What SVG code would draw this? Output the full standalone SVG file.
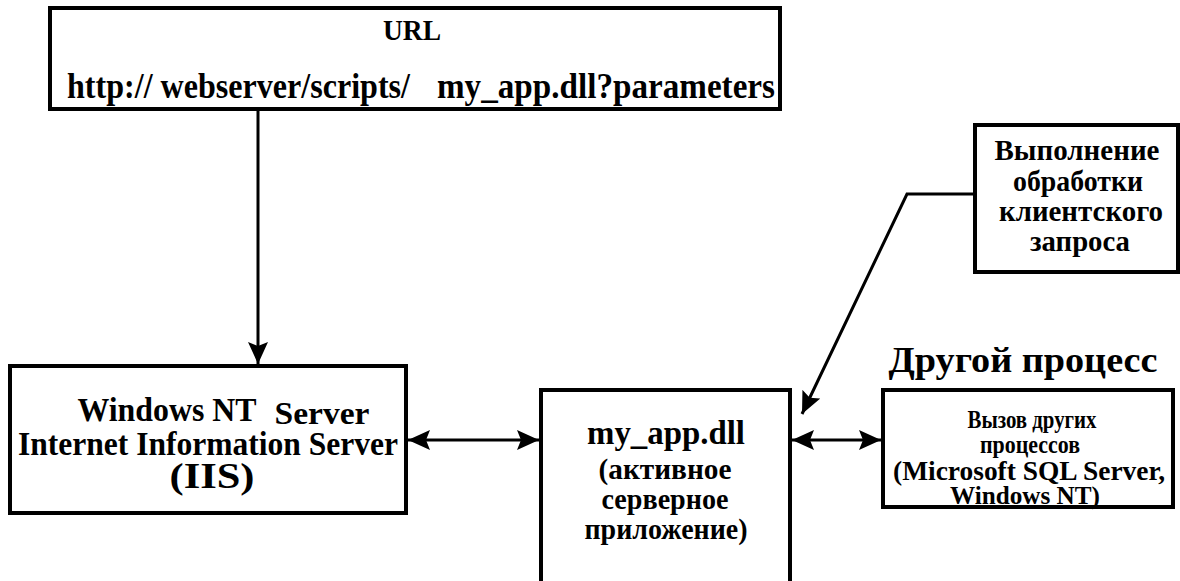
<svg xmlns="http://www.w3.org/2000/svg" width="1180" height="581" viewBox="0 0 1180 581">
<style>
.box{fill:#fff;stroke:#000;stroke-width:4}
.t{font-family:"Liberation Serif","Times New Roman",serif;font-weight:bold;fill:#000;text-anchor:middle}
.s{font-family:"Liberation Serif","Times New Roman",serif;font-weight:bold;fill:#000}
.c{fill:none;stroke:#000;stroke-width:3}
</style>
<defs>
<marker id="ah" viewBox="0 0 22 20" refX="22" refY="10" markerWidth="22" markerHeight="20" markerUnits="userSpaceOnUse" orient="auto-start-reverse">
<path d="M0,0 L22,10 L0,20 L4,10 Z" fill="#000"/>
</marker>
</defs>
<rect width="1180" height="581" fill="#fff"/>
<g id="connectors">
<line class="c" x1="258" y1="110" x2="258" y2="364" marker-end="url(#ah)"/>
<line class="c" x1="408" y1="440" x2="539" y2="440" marker-start="url(#ah)" marker-end="url(#ah)"/>
<line class="c" x1="792" y1="440" x2="881" y2="440" marker-start="url(#ah)" marker-end="url(#ah)"/>
<polyline class="c" points="975,194 907,194 802,414" marker-end="url(#ah)"/>
</g>
<g id="url">
<rect class="box" x="50" y="8" width="730" height="101"/>
<text class="t" x="412" y="40" font-size="30" textLength="58" lengthAdjust="spacingAndGlyphs">URL</text>
<text class="s" x="67" y="98" font-size="36" textLength="343" lengthAdjust="spacingAndGlyphs">http:// webserver/scripts/</text>
<text class="s" x="437" y="98" font-size="36" textLength="338" lengthAdjust="spacingAndGlyphs">my_app.dll?parameters</text>
</g>
<g id="iis">
<rect class="box" x="10" y="366" width="396" height="147"/>
<text class="t" x="167" y="421" font-size="33" textLength="179" lengthAdjust="spacingAndGlyphs">Windows NT</text>
<text class="t" x="322" y="424" font-size="31" textLength="95" lengthAdjust="spacingAndGlyphs">Server</text>
<text class="t" x="208" y="455" font-size="34" textLength="380" lengthAdjust="spacingAndGlyphs">Internet Information Server</text>
<text class="t" x="212" y="488" font-size="36" textLength="85" lengthAdjust="spacingAndGlyphs">(IIS)</text>
</g>
<g id="myapp">
<rect class="box" x="541" y="390" width="249" height="220"/>
<text class="t" x="666" y="444" font-size="34" textLength="158" lengthAdjust="spacingAndGlyphs">my_app.dll</text>
<text class="t" x="665" y="479" font-size="29" textLength="133" lengthAdjust="spacingAndGlyphs">(активное</text>
<text class="t" x="665" y="509" font-size="29" textLength="127" lengthAdjust="spacingAndGlyphs">серверное</text>
<text class="t" x="666" y="539" font-size="29" textLength="163" lengthAdjust="spacingAndGlyphs">приложение)</text>
</g>
<g id="exec">
<rect class="box" x="975" y="125" width="203" height="147"/>
<text class="t" x="1077" y="160" font-size="29" textLength="165" lengthAdjust="spacingAndGlyphs">Выполнение</text>
<text class="t" x="1078" y="191" font-size="29" textLength="130" lengthAdjust="spacingAndGlyphs">обработки</text>
<text class="t" x="1081" y="221" font-size="29" textLength="164" lengthAdjust="spacingAndGlyphs">клиентского</text>
<text class="t" x="1080" y="251" font-size="29" textLength="100" lengthAdjust="spacingAndGlyphs">запроса</text>
</g>
<g id="other-label">
<text class="t" x="1023" y="372" font-size="36" textLength="269" lengthAdjust="spacingAndGlyphs">Другой процесс</text>
</g>
<g id="other">
<rect class="box" x="883" y="390" width="290" height="117"/>
<text class="t" x="1032" y="428" font-size="26" textLength="129" lengthAdjust="spacingAndGlyphs">Вызов других</text>
<text class="t" x="1030" y="453" font-size="26" textLength="100" lengthAdjust="spacingAndGlyphs">процессов</text>
<text class="t" x="1029" y="480" font-size="27" textLength="272" lengthAdjust="spacingAndGlyphs">(Microsoft SQL Server,</text>
<text class="t" x="1025" y="504" font-size="26" textLength="150" lengthAdjust="spacingAndGlyphs">Windows NT)</text>
</g>
</svg>
